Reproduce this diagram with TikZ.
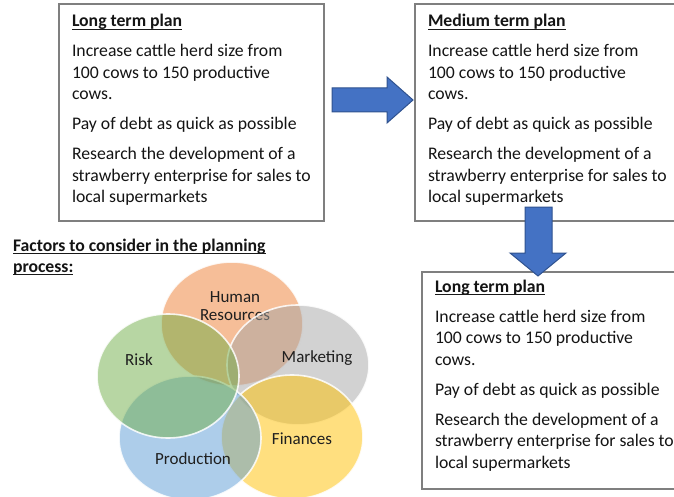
\documentclass[tikz,border=0pt]{standalone}
\usepackage{fontspec}
\setmainfont{Carlito}
\usetikzlibrary{calc}
\definecolor{boxgray}{HTML}{7F7F7F}
\definecolor{arrowblue}{HTML}{4472C4}
\definecolor{arrowedge}{HTML}{2F528F}
\definecolor{hrorange}{HTML}{ED7D31}
\definecolor{mkgray}{HTML}{A5A5A5}
\definecolor{fnyellow}{HTML}{FFC000}
\definecolor{prblue}{HTML}{5B9BD5}
\definecolor{rkgreen}{HTML}{70AD47}
\newcommand\planlines[4]{%
  \node[ttl] (#1t) at (#2,#3+20) {#4};
  \draw[uline] ($(#1t.base west)+(0,2.4)$) -- ($(#1t.base east)+(0,2.4)$);
  \node[txt] (#1a) at (#2,#3+50) {Increase cattle herd size from};
  \node[txt] (#1b) at (#2,#3+71.5) {100 cows to 150 productive};
  \node[txt] (#1c) at (#2,#3+93) {cows.};
  \node[txt] (#1d) at (#2,#3+123) {Pay of debt as quick as possible};
  \node[txt] (#1e) at (#2,#3+153) {Research the development of a};
  \node[txt] (#1f) at (#2,#3+174.5) {strawberry enterprise for sales to};
  \node[txt] (#1g) at (#2,#3+196) {local supermarkets};
}
\begin{document}
\begin{tikzpicture}[x=1pt,y=-1pt,
  every node/.style={inner sep=0pt, outer sep=0pt, text=black!92},
  txt/.style={anchor=base west, font=\fontsize{17.7}{21.5}\selectfont},
  ttl/.style={anchor=base west, font=\fontsize{17.7}{21.5}\selectfont\bfseries},
  planbox/.style={draw=boxgray, line width=1.3pt, fill=white, anchor=north west, minimum height=217pt},
  blockarrow/.style={fill=arrowblue, draw=arrowedge, line width=1pt, line join=miter},
  venn/.style={fill opacity=0.5, draw=white, draw opacity=0.85, line width=1.6pt},
  vlabel/.style={font=\fontsize{17}{17.5}\selectfont, align=center, text=black!88},
  uline/.style={line width=1.1pt, black!90}]
\useasboundingbox (0,0) rectangle (674,497);
\clip (0,0) rectangle (674,497);
% plan boxes
\node[planbox, minimum width=265pt] (box1) at (59,4) {};
\node[planbox, minimum width=270pt] (box2) at (415,4) {};
\node[planbox, minimum width=265pt] (box3) at (422,272) {};
\planlines{p1}{72}{7}{Long term plan}
\planlines{p2}{428}{7}{Medium term plan}
\planlines{p3}{435}{272}{Long term plan}
% block arrows
\draw[blockarrow] (332,88) -- (387,88) -- (387,77) -- (413,100) -- (387,123) -- (387,112) -- (332,112) -- cycle;
\draw[blockarrow] (525,207) -- (552,207) -- (552,253) -- (566,253) -- (538,276) -- (510,253) -- (525,253) -- cycle;
% factors heading
\node[ttl] (f1) at (13,251) {Factors to consider in the planning};
\node[ttl] (f2) at (13,272) {process:};
\draw[uline] ($(f1.base west)+(0,2.4)$) -- ($(f1.base east)+(0,2.4)$);
\draw[uline] ($(f2.base west)+(0,2.4)$) -- ($(f2.base east)+(0,2.4)$);
% venn circles
\draw[venn, fill=hrorange] (232,324) ellipse [x radius=71, y radius=62];
\node[vlabel] (hr) at (235,306) {Human\\Resources};
\draw[venn, fill=mkgray] (298,365) ellipse [x radius=71, y radius=60];
\node[vlabel] (mk) at (317,358) {Marketing};
\draw[venn, fill=fnyellow] (292,437) ellipse [x radius=71, y radius=62];
\node[vlabel] (fn) at (302,439) {Finances};
\draw[venn, fill=prblue] (190,438) ellipse [x radius=71, y radius=62];
\node[vlabel] (pr) at (193,459) {Production};
\draw[venn, fill=rkgreen] (168,376) ellipse [x radius=71, y radius=62];
\node[vlabel] (rk) at (139,360) {Risk};
\end{tikzpicture}
\end{document}
